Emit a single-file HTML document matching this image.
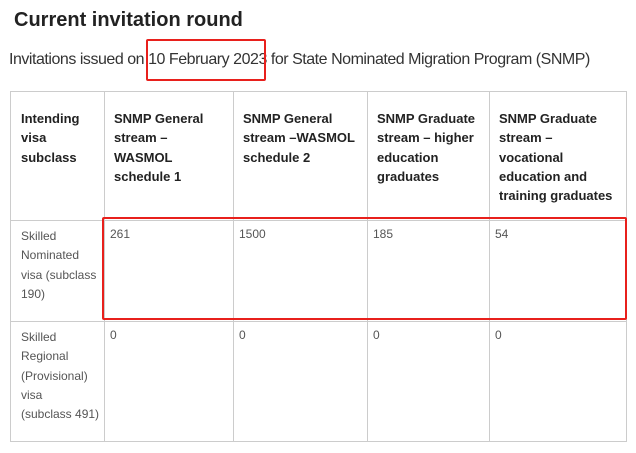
<!DOCTYPE html>
<html><head><style>
body{margin:0;width:636px;height:453px;background:#fff;position:relative;overflow:hidden;font-family:"Liberation Sans",sans-serif}
.a{position:absolute}
.h{font-weight:bold;font-size:13px;line-height:19.3px;color:#222}
.c{font-size:12px;line-height:19.3px;color:#555}
.v{position:absolute;top:91px;width:1px;height:351px;background:#ccc}
.hl{position:absolute;left:10px;width:617px;height:1px;background:#ccc}
</style></head><body>
<div class="a" style="left:14px;top:9px;font-size:20px;font-weight:bold;color:#222">Current invitation round</div>
<div class="a" style="left:9px;top:51px;font-size:16px;color:#333;letter-spacing:-0.47px">Invitations issued on 10 February 2023 for State Nominated Migration Program (SNMP)</div>
<div class="hl" style="top:91px"></div><div class="hl" style="top:220px"></div><div class="hl" style="top:321px"></div><div class="hl" style="top:441px"></div>
<div class="v" style="left:10px"></div><div class="v" style="left:104px"></div><div class="v" style="left:233px"></div><div class="v" style="left:367px"></div><div class="v" style="left:489px"></div><div class="v" style="left:626px"></div>
<div class="a h" style="left:21px;top:109px;width:80px">Intending<br>visa<br>subclass</div>
<div class="a h" style="left:114px;top:109px">SNMP General<br>stream –<br>WASMOL<br>schedule 1</div>
<div class="a h" style="left:243px;top:109px">SNMP General<br>stream –WASMOL<br>schedule 2</div>
<div class="a h" style="left:377px;top:109px">SNMP Graduate<br>stream – higher<br>education<br>graduates</div>
<div class="a h" style="left:499px;top:109px">SNMP Graduate<br>stream –<br>vocational<br>education and<br>training graduates</div>
<div class="a c" style="left:21px;top:227px">Skilled<br>Nominated<br>visa (subclass<br>190)</div>
<div class="a c" style="left:110px;top:225px">261</div>
<div class="a c" style="left:239px;top:225px">1500</div>
<div class="a c" style="left:373px;top:225px">185</div>
<div class="a c" style="left:495px;top:225px">54</div>
<div class="a c" style="left:21px;top:328px">Skilled<br>Regional<br>(Provisional)<br>visa<br>(subclass 491)</div>
<div class="a c" style="left:110px;top:326px">0</div>
<div class="a c" style="left:239px;top:326px">0</div>
<div class="a c" style="left:373px;top:326px">0</div>
<div class="a c" style="left:495px;top:326px">0</div>
<div class="a" style="left:146px;top:39px;width:116px;height:38px;border:2px solid #e8201c;border-radius:2px"></div>
<div class="a" style="left:102px;top:217px;width:521px;height:99px;border:2px solid #e8201c;border-radius:2px"></div>
</body></html>
